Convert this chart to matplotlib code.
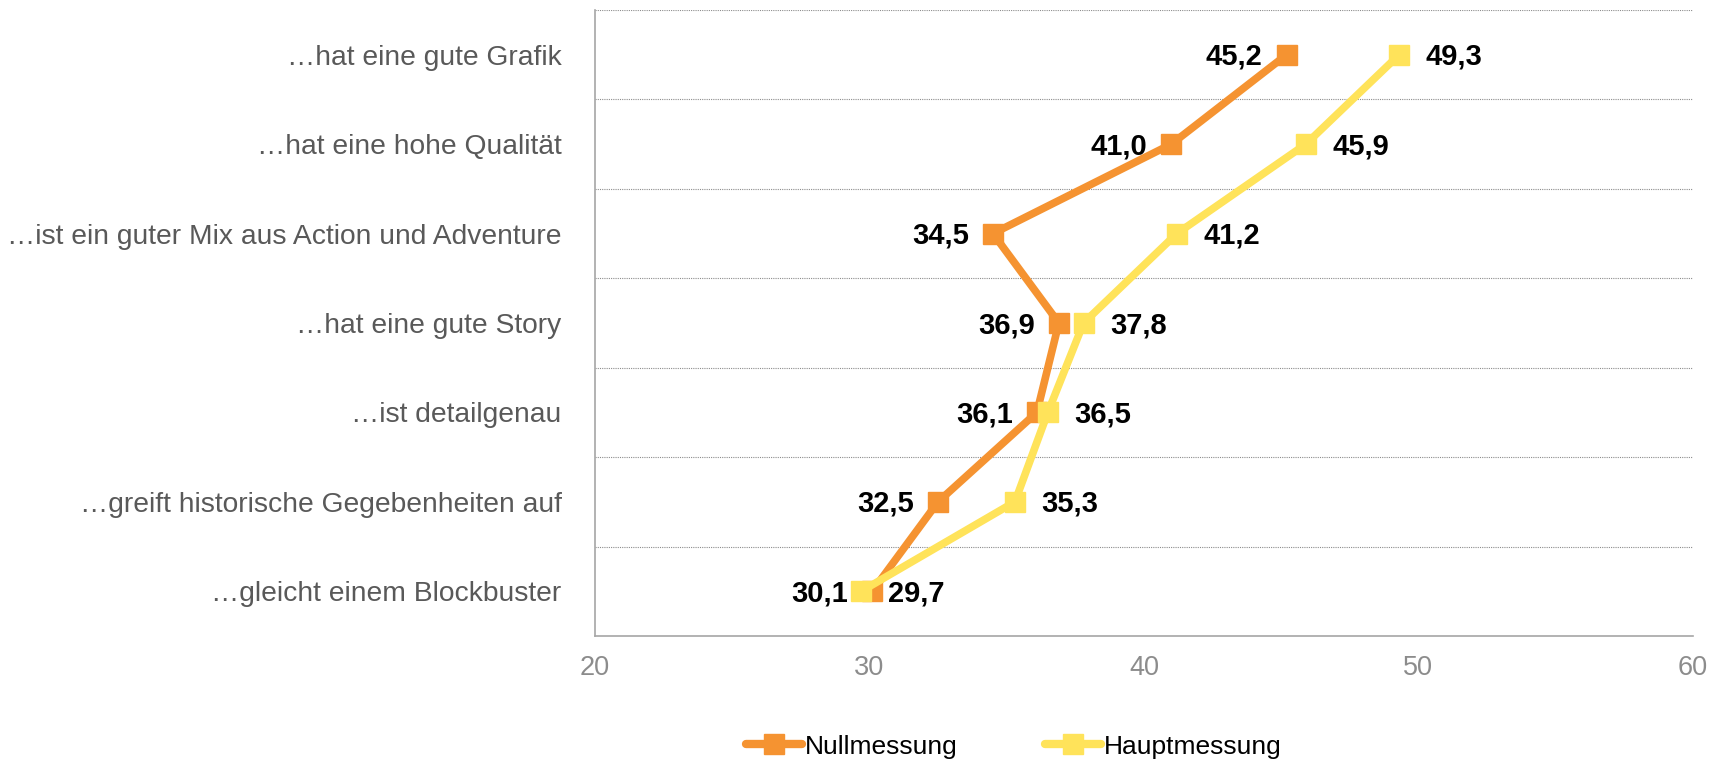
"""Slope-style line chart: Nullmessung vs. Hauptmessung per statement."""

import matplotlib.pyplot as plt
from matplotlib.lines import Line2D

plt.rcParams["font.family"] = ["Liberation Sans", "DejaVu Sans"]

categories = [
    "…hat eine gute Grafik",
    "…hat eine hohe Qualität",
    "…ist ein guter Mix aus Action und Adventure",
    "…hat eine gute Story",
    "…ist detailgenau",
    "…greift historische Gegebenheiten auf",
    "…gleicht einem Blockbuster",
]
nullmessung = [45.2, 41.0, 34.5, 36.9, 36.1, 32.5, 30.1]
hauptmessung = [49.3, 45.9, 41.2, 37.8, 36.5, 35.3, 29.7]
x_ticks = [20, 30, 40, 50, 60]

ORANGE = "#F59331"
YELLOW = "#FFE35A"

fig = plt.figure(figsize=(17.21, 7.61), dpi=100)
ax = fig.add_axes([0.3457, 0.1643, 0.6380, 0.8226])

ypos = list(range(len(categories)))

ax.plot(nullmessung, ypos, color=ORANGE, linewidth=5.5, marker="s",
        markersize=15, zorder=3, solid_capstyle="round")
ax.plot(hauptmessung, ypos, color=YELLOW, linewidth=5.5, marker="s",
        markersize=15, zorder=4, solid_capstyle="round")

for y, v in zip(ypos, nullmessung):
    ax.annotate(f"{v:.1f}".replace(".", ","), (v, y), xytext=(-17.5, -1.5),
                textcoords="offset points", ha="right", va="center",
                fontsize=21, fontweight="bold", color="black", zorder=5)
for y, v in zip(ypos, hauptmessung):
    ax.annotate(f"{v:.1f}".replace(".", ","), (v, y), xytext=(19, -1.5),
                textcoords="offset points", ha="left", va="center",
                fontsize=21, fontweight="bold", color="black", zorder=5)

# dotted separators between the category bands
for b in [k - 0.5 for k in range(len(categories))]:
    ax.axhline(b, color="#8c8c8c", linewidth=0.8, linestyle=(0, (1, 1)), zorder=1)

ax.set_xlim(x_ticks[0], x_ticks[-1])
ax.set_ylim(len(categories) - 0.5, -0.5)
ax.set_xticks(x_ticks)
ax.set_yticks(ypos)
ax.set_yticklabels(categories)

ax.tick_params(axis="y", length=0, pad=24, labelsize=20.3, labelcolor="#595959")
ax.tick_params(axis="x", length=0, pad=14, labelsize=19.5, labelcolor="#8c8c8c")

for side in ["top", "right"]:
    ax.spines[side].set_visible(False)
for side in ["left", "bottom"]:
    ax.spines[side].set_color("#a6a6a6")
    ax.spines[side].set_linewidth(1.2)

handles = [
    Line2D([], [], color=ORANGE, linewidth=6, marker="s", markersize=15,
           solid_capstyle="round"),
    Line2D([], [], color=YELLOW, linewidth=6, marker="s", markersize=15,
           solid_capstyle="round"),
]
fig.legend(handles, ["Nullmessung", "Hauptmessung"], loc="center",
           bbox_to_anchor=(0.589, 0.019), ncol=2, frameon=False,
           fontsize=19, handlelength=2.15, handletextpad=0.1,
           columnspacing=3.3)

fig.savefig("out.png", dpi=100)
